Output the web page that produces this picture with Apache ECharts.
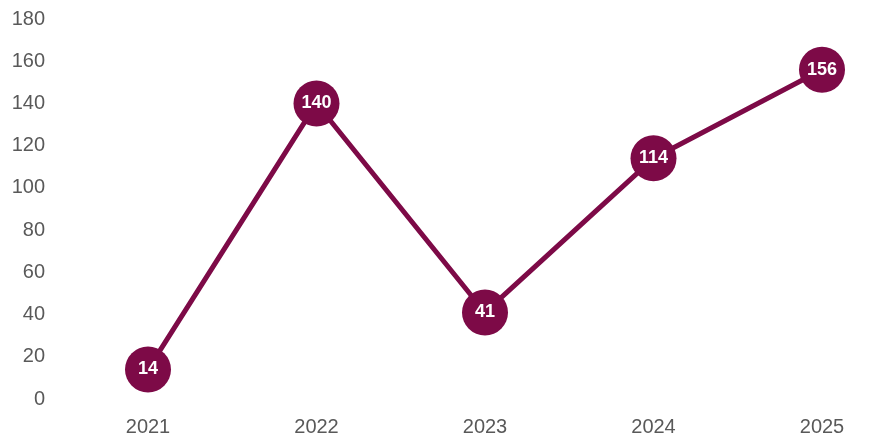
<!DOCTYPE html>
<html>
<head>
<meta charset="utf-8">
<script src="https://cdn.jsdelivr.net/npm/echarts@6/dist/echarts.min.js"></script>
<style>
  html, body { margin: 0; padding: 0; background: #fff; }
  #chart { width: 876px; height: 443px; }
</style>
</head>
<body>
<div id="chart"></div>
<script>
const years = ["2021", "2022", "2023", "2024", "2025"];
const values = [14, 140, 41, 114, 156];

const lineColor = "#7d0a47";
const font = "'Liberation Sans', Arial, sans-serif";
const chart = echarts.init(document.getElementById("chart"));

chart.setOption({
  animation: false,
  grid: { left: 148, right: 54, top: 19, bottom: 44 },
  xAxis: {
    type: "category",
    data: years,
    boundaryGap: false,
    axisLine: { show: false },
    axisTick: { show: false },
    axisLabel: {
      color: "#595959",
      fontSize: 20,
      fontFamily: font,
      margin: 18
    }
  },
  yAxis: {
    type: "value",
    min: 0,
    max: 180,
    interval: 20,
    axisLine: { show: false },
    axisTick: { show: false },
    splitLine: { show: false },
    axisLabel: {
      color: "#595959",
      fontSize: 20,
      fontFamily: font,
      margin: 103
    }
  },
  series: [
    {
      type: "line",
      data: values,
      lineStyle: { color: lineColor, width: 5 },
      itemStyle: { color: lineColor },
      symbol: "circle",
      symbolSize: 46,
      label: {
        show: true,
        position: "inside",
        color: "#fff",
        fontWeight: "bold",
        fontSize: 18,
        fontFamily: font
      }
    }
  ]
});
</script>
</body>
</html>
